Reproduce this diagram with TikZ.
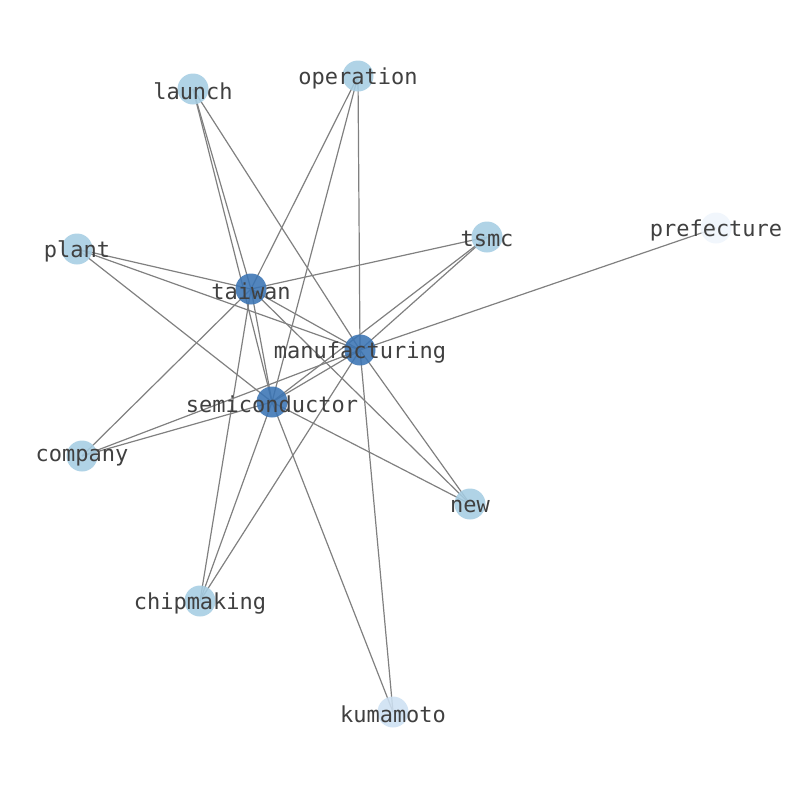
\documentclass[tikz,border=0pt]{standalone}
\usepackage{fontspec}
\newfontfamily\graphfont{DejaVu Sans Mono}
\usepackage{tikz}
\usetikzlibrary{backgrounds}

\definecolor{hubblue}{RGB}{58,116,180}
\definecolor{leafblue}{RGB}{165,205,227}
\definecolor{paleblue}{RGB}{205,224,242}
\definecolor{faintblue}{RGB}{239,245,252}
\definecolor{edgegray}{RGB}{128,128,128}
\definecolor{labelgray}{RGB}{64,64,64}

\begin{document}
\begin{tikzpicture}[
    x=1pt, y=-1pt,
    word/.style={text=labelgray, font=\graphfont\fontsize{22}{22}\selectfont, inner sep=0pt, yshift=-2pt},
    vertex/.style={circle, minimum size=31pt, inner sep=0pt, fill opacity=0.88, text opacity=1},
    hub/.style={vertex, fill=hubblue, label={[word]center:#1}},
    leaf/.style={vertex, fill=leafblue, label={[word]center:#1}},
    pale/.style={vertex, fill=paleblue, label={[word]center:#1}},
    faint/.style={vertex, fill=faintblue, label={[word]center:#1}},
    edge/.style={draw=edgegray, line width=1.2pt}
]
    \useasboundingbox (0,0) rectangle (794,790);

    \node (launch) [leaf=launch] at (193,89) {};
    \node (operation) [leaf=operation] at (358,76) {};
    \node (plant) [leaf=plant] at (77,249) {};
    \node (tsmc) [leaf=tsmc] at (487,237) {};
    \node (prefecture) [faint=prefecture] at (716,228) {};
    \node (taiwan) [hub=taiwan] at (251,289) {};
    \node (manufacturing) [hub=manufacturing] at (360,350) {};
    \node (semiconductor) [hub=semiconductor] at (272,402) {};
    \node (company) [leaf=company] at (82,456) {};
    \node (new) [leaf=new] at (470,504) {};
    \node (chipmaking) [leaf=chipmaking] at (200,601) {};
    \node (kumamoto) [pale=kumamoto] at (393,712) {};

    \begin{scope}[on background layer]
    \draw [edge] (taiwan.center) -- (manufacturing.center);
    \draw [edge] (taiwan.center) -- (semiconductor.center);
    \draw [edge] (manufacturing.center) -- (semiconductor.center);
    \draw [edge] (launch.center) -- (taiwan.center);
    \draw [edge] (launch.center) -- (semiconductor.center);
    \draw [edge] (launch.center) -- (manufacturing.center);
    \draw [edge] (operation.center) -- (taiwan.center);
    \draw [edge] (operation.center) -- (semiconductor.center);
    \draw [edge] (operation.center) -- (manufacturing.center);
    \draw [edge] (plant.center) -- (taiwan.center);
    \draw [edge] (plant.center) -- (manufacturing.center);
    \draw [edge] (plant.center) -- (semiconductor.center);
    \draw [edge] (tsmc.center) -- (taiwan.center);
    \draw [edge] (tsmc.center) -- (manufacturing.center);
    \draw [edge] (tsmc.center) -- (semiconductor.center);
    \draw [edge] (prefecture.center) -- (manufacturing.center);
    \draw [edge] (company.center) -- (taiwan.center);
    \draw [edge] (company.center) -- (manufacturing.center);
    \draw [edge] (company.center) -- (semiconductor.center);
    \draw [edge] (new.center) -- (taiwan.center);
    \draw [edge] (new.center) -- (manufacturing.center);
    \draw [edge] (new.center) -- (semiconductor.center);
    \draw [edge] (chipmaking.center) -- (taiwan.center);
    \draw [edge] (chipmaking.center) -- (manufacturing.center);
    \draw [edge] (chipmaking.center) -- (semiconductor.center);
    \draw [edge] (kumamoto.center) -- (manufacturing.center);
    \draw [edge] (kumamoto.center) -- (semiconductor.center);
    \end{scope}
\end{tikzpicture}
\end{document}
